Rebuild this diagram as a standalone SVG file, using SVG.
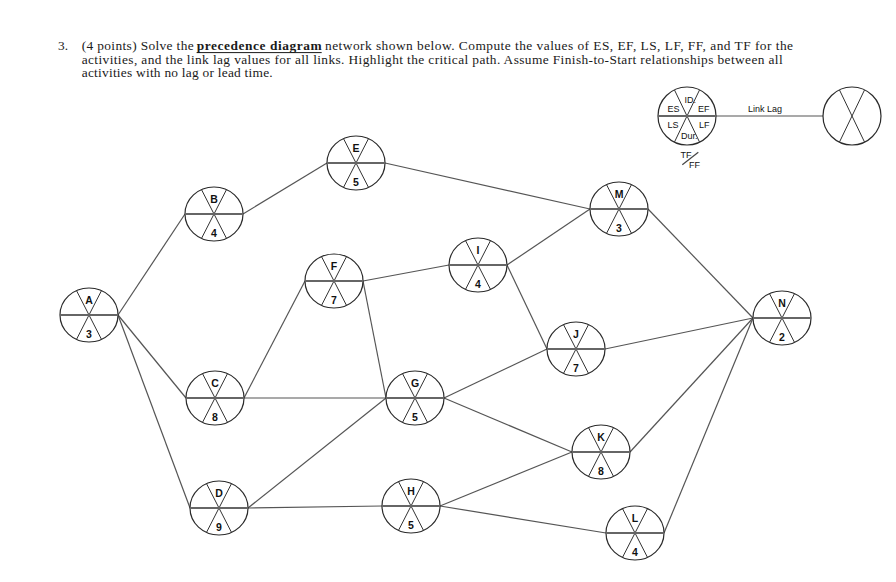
<svg xmlns="http://www.w3.org/2000/svg" xmlns:xlink="http://www.w3.org/1999/xlink" width="896" height="582" viewBox="0 0 896 582">
<style>
.q{font-family:"Liberation Serif","Times New Roman",serif;font-size:13.4px;fill:#1a1a1a}
.qb{font-weight:bold}
.lab{font-family:"Liberation Sans",Arial,sans-serif;font-size:10.5px;font-weight:bold;fill:#111;text-anchor:middle}
.leg{font-family:"Liberation Sans",Arial,sans-serif;font-size:9px;fill:#111}
.edge{stroke:#555;stroke-width:1.2;fill:none}
.ring{fill:#fff;stroke:#2a2a2a;stroke-width:1.2}
.div{stroke:#333;stroke-width:1}
.hz{stroke:#666;stroke-width:1.9}
</style>
<defs>
<g id="nd">
<ellipse class="ring" cx="0" cy="0" rx="29" ry="27"/>
<line class="div" x1="-12.5" y1="-24.4" x2="12.5" y2="24.4"/>
<line class="div" x1="12.5" y1="-24.4" x2="-12.5" y2="24.4"/>
<line class="hz" x1="-29" y1="0" x2="29" y2="0"/>
</g>
</defs>
<rect width="896" height="582" fill="#fff"/>

<g id="question">
<text class="q" x="58" y="50">3.</text>
<text class="q" x="81.7" y="50" textLength="112" lengthAdjust="spacing">(4 points) Solve the</text>
<text class="q qb" x="196.7" y="50" textLength="125" lengthAdjust="spacing">precedence diagram</text>
<line x1="196.7" y1="52.6" x2="321.7" y2="52.6" stroke="#1a1a1a" stroke-width="1"/>
<text class="q" x="325" y="50" textLength="468" lengthAdjust="spacing">network shown below. Compute the values of ES, EF, LS, LF, FF, and TF for the</text>
<text class="q" x="81.7" y="63.5" textLength="701" lengthAdjust="spacing">activities, and the link lag values for all links. Highlight the critical path. Assume Finish-to-Start relationships between all</text>
<text class="q" x="81.7" y="77" textLength="191" lengthAdjust="spacing">activities with no lag or lead time.</text>
</g>

<g id="legend">
<line class="edge" x1="716" y1="116" x2="823" y2="116"/>
<circle class="ring" cx="687" cy="116" r="29"/>
<line class="div" x1="674.5" y1="90" x2="699.5" y2="142"/>
<line class="div" x1="699.5" y1="90" x2="674.5" y2="142"/>
<line class="hz" x1="658" y1="116" x2="716" y2="116"/>
<text class="leg" x="684.5" y="102.5">ID.</text>
<text class="leg" x="667.5" y="111.5">ES</text>
<text class="leg" x="698" y="111.5">EF</text>
<text class="leg" x="667.5" y="127.5">LS</text>
<text class="leg" x="699" y="127.5">LF</text>
<text class="leg" x="681" y="138.5">Dur.</text>
<text class="leg" x="680.5" y="158">TF</text>
<line x1="682.3" y1="164.7" x2="698.3" y2="152.3" stroke="#444" stroke-width="1.2"/>
<text class="leg" x="689" y="167.5">FF</text>
<text class="leg" x="765" y="112" text-anchor="middle">Link Lag</text>
<circle class="ring" cx="852" cy="116" r="29"/>
<line class="div" x1="839.5" y1="90" x2="864.5" y2="142"/>
<line class="div" x1="864.5" y1="90" x2="839.5" y2="142"/>
</g>

<g id="connectors">
<line class="edge" x1="118" y1="315" x2="185" y2="214"/>
<line class="edge" x1="118" y1="315" x2="186" y2="398"/>
<line class="edge" x1="118" y1="315" x2="190" y2="508"/>
<line class="edge" x1="243" y1="214" x2="327" y2="163"/>
<line class="edge" x1="244" y1="398" x2="305" y2="281"/>
<line class="edge" x1="244" y1="398" x2="386" y2="398"/>
<line class="edge" x1="248" y1="508" x2="386" y2="398"/>
<line class="edge" x1="248" y1="508" x2="382" y2="506"/>
<line class="edge" x1="385" y1="163" x2="590" y2="209"/>
<line class="edge" x1="363" y1="281" x2="449" y2="265"/>
<line class="edge" x1="363" y1="281" x2="386" y2="398"/>
<line class="edge" x1="507" y1="265" x2="590" y2="209"/>
<line class="edge" x1="507" y1="265" x2="547" y2="349"/>
<line class="edge" x1="444" y1="398" x2="547" y2="349"/>
<line class="edge" x1="444" y1="398" x2="572" y2="452"/>
<line class="edge" x1="440" y1="506" x2="572" y2="452"/>
<line class="edge" x1="440" y1="506" x2="606" y2="533"/>
<line class="edge" x1="648" y1="209" x2="753" y2="318"/>
<line class="edge" x1="605" y1="349" x2="753" y2="318"/>
<line class="edge" x1="630" y1="452" x2="753" y2="318"/>
<line class="edge" x1="664" y1="533" x2="753" y2="318"/>
</g>

<g id="node-A" transform="translate(89,315)"><use xlink:href="#nd" href="#nd"/><text class="lab" x="0" y="-11">A</text><text class="lab" x="0" y="23">3</text></g>
<g id="node-B" transform="translate(214,214)"><use xlink:href="#nd" href="#nd"/><text class="lab" x="0" y="-11">B</text><text class="lab" x="0" y="23">4</text></g>
<g id="node-C" transform="translate(215,398)"><use xlink:href="#nd" href="#nd"/><text class="lab" x="0" y="-11">C</text><text class="lab" x="0" y="23">8</text></g>
<g id="node-D" transform="translate(219,508)"><use xlink:href="#nd" href="#nd"/><text class="lab" x="0" y="-11">D</text><text class="lab" x="0" y="23">9</text></g>
<g id="node-E" transform="translate(356,163)"><use xlink:href="#nd" href="#nd"/><text class="lab" x="0" y="-11">E</text><text class="lab" x="0" y="23">5</text></g>
<g id="node-F" transform="translate(334,281)"><use xlink:href="#nd" href="#nd"/><text class="lab" x="0" y="-11">F</text><text class="lab" x="0" y="23">7</text></g>
<g id="node-G" transform="translate(415,398)"><use xlink:href="#nd" href="#nd"/><text class="lab" x="0" y="-11">G</text><text class="lab" x="0" y="23">5</text></g>
<g id="node-H" transform="translate(411,506)"><use xlink:href="#nd" href="#nd"/><text class="lab" x="0" y="-11">H</text><text class="lab" x="0" y="23">5</text></g>
<g id="node-I" transform="translate(478,265)"><use xlink:href="#nd" href="#nd"/><text class="lab" x="0" y="-11">I</text><text class="lab" x="0" y="23">4</text></g>
<g id="node-J" transform="translate(576,349)"><use xlink:href="#nd" href="#nd"/><text class="lab" x="0" y="-11">J</text><text class="lab" x="0" y="23">7</text></g>
<g id="node-K" transform="translate(601,452)"><use xlink:href="#nd" href="#nd"/><text class="lab" x="0" y="-11">K</text><text class="lab" x="0" y="23">8</text></g>
<g id="node-L" transform="translate(635,533)"><use xlink:href="#nd" href="#nd"/><text class="lab" x="0" y="-11">L</text><text class="lab" x="0" y="23">4</text></g>
<g id="node-M" transform="translate(619,209)"><use xlink:href="#nd" href="#nd"/><text class="lab" x="0" y="-11">M</text><text class="lab" x="0" y="23">3</text></g>
<g id="node-N" transform="translate(782,318)"><use xlink:href="#nd" href="#nd"/><text class="lab" x="0" y="-11">N</text><text class="lab" x="0" y="23">2</text></g>
</svg>
